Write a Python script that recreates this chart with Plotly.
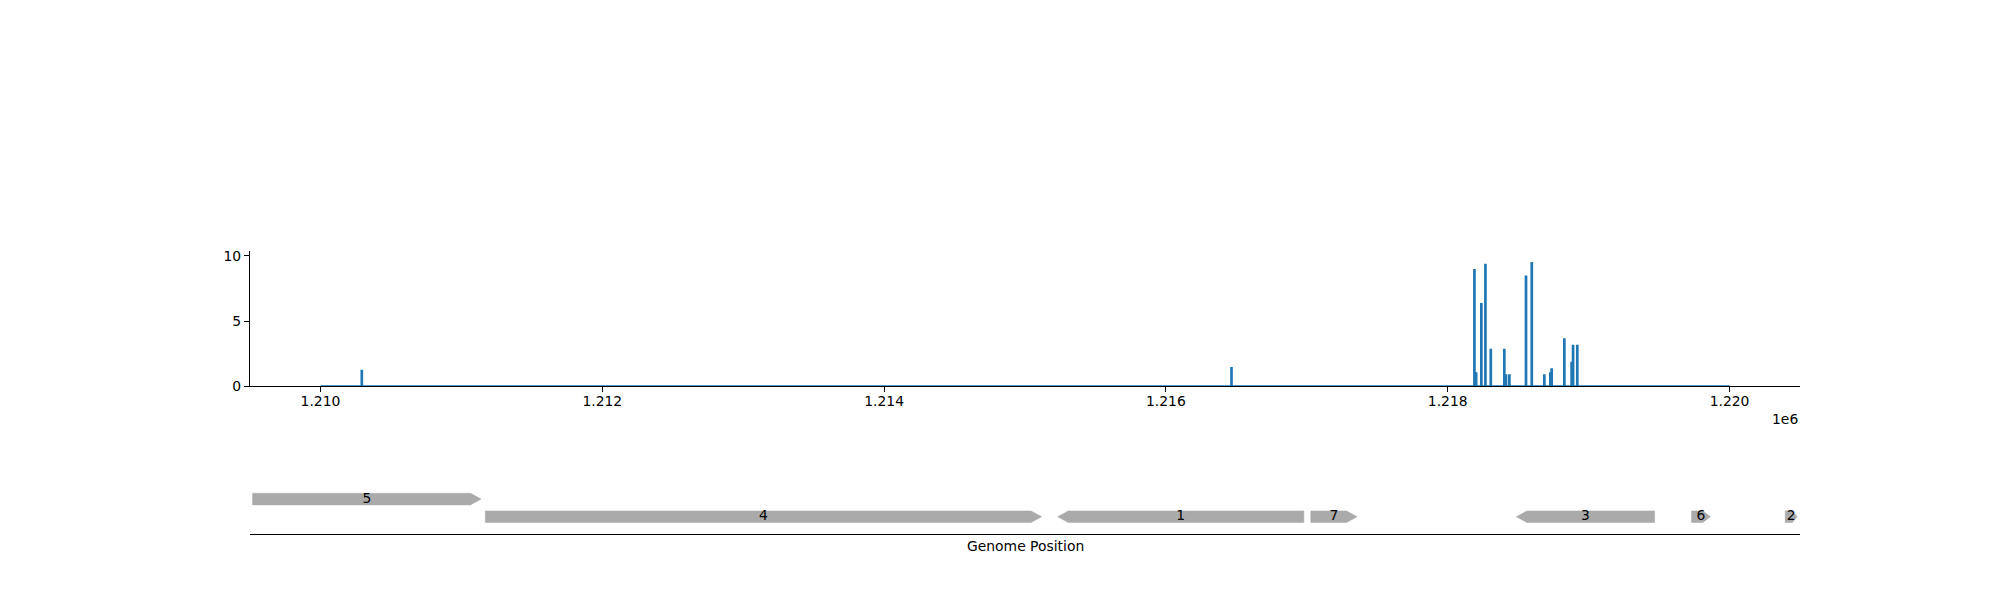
import plotly.graph_objects as go

# coverage spikes (everything else is 0 between 1.210e6 and 1.220e6)
cov_start = 1210000
cov_end = 1220000
spike_pos = [1210291, 1216463, 1218187, 1218199, 1218236, 1218265, 1218303,
             1218399, 1218411, 1218435, 1218553, 1218594, 1218683, 1218726,
             1218735, 1218825, 1218877, 1218887, 1218917]
spike_depth = [1.2, 1.4, 8.9, 1.0, 6.3, 9.3, 2.8,
               2.8, 0.85, 0.85, 8.4, 9.45, 0.85, 1.0,
               1.3, 3.6, 1.8, 3.1, 3.1]

# genes
gene_names = ["5", "4", "1", "7", "3", "6", "2"]
gene_start = [1209518, 1211170, 1215232, 1217028, 1218487, 1219730, 1220395]
gene_end = [1211140, 1215118, 1216979, 1217357, 1219468, 1219865, 1220480]
gene_strand = [1, 1, -1, 1, -1, 1, 1]
gene_level = [1, 0, 0, 0, 0, 0, 0]

xticks = [1210000, 1212000, 1214000, 1216000, 1218000, 1220000]
xtick_text = ["1.210", "1.212", "1.214", "1.216", "1.218", "1.220"]

xrange_ = [1209500, 1220500]
font = dict(family="DejaVu Sans", size=13.9, color="black")
blue = "#1f77b4"
grey = "#aaaaaa"

# page body margin pushes the plot right by 8px
OFF_X = 8
W = 2000 - 2 * OFF_X
H = 600


def fx(p):
    return (p - OFF_X) / W


def fy(p):
    return 1 - p / H


# build the depth line
xs = [cov_start]
ys = [0]
w = 5
for p, d in sorted(zip(spike_pos, spike_depth)):
    xs += [p, p, p + w, p + w]
    ys += [0, d, d, 0]
xs.append(cov_end)
ys.append(0)

fig = go.Figure()
fig.add_trace(go.Scatter(x=xs, y=ys, mode="lines", line=dict(color=blue, width=2),
                         xaxis="x", yaxis="y", showlegend=False))

hh = 0.33
for name, s, e, st, lv in zip(gene_names, gene_start, gene_end, gene_strand, gene_level):
    head = min(75, 0.4 * (e - s))
    if st > 0:
        px = [s, e - head, e, e - head, s, s]
    else:
        px = [e, s + head, s, s + head, e, e]
    py = [lv - hh, lv - hh, lv, lv + hh, lv + hh, lv - hh]
    fig.add_trace(go.Scatter(x=px, y=py, fill="toself", fillcolor=grey, mode="lines",
                             line=dict(color=grey, width=0.5), xaxis="x2", yaxis="y2",
                             showlegend=False, hoverinfo="skip"))

fig.add_trace(go.Scatter(x=[(s + e) / 2 for s, e in zip(gene_start, gene_end)], y=gene_level,
                         mode="text", text=gene_names, textfont=font,
                         xaxis="x2", yaxis="y2", showlegend=False))

axis_common = dict(showgrid=False, zeroline=False, linecolor="black", linewidth=1.1)

fig.update_layout(
    width=W, height=H,
    margin=dict(l=0, r=0, t=0, b=0),
    paper_bgcolor="white", plot_bgcolor="white",
    font=font,
    xaxis=dict(domain=[fx(250), fx(1800)], range=xrange_, showline=True, ticks="outside",
               ticklen=5, tickwidth=1.1, tickcolor="black", tickvals=xticks,
               ticktext=xtick_text, ticklabelstandoff=-3, anchor="y", **axis_common),
    yaxis=dict(domain=[fy(382), fy(244.3)], range=[0, 10.33], showline=True,
               ticks="outside", ticklen=5, tickwidth=1.1, tickcolor="black",
               tickvals=[0, 5, 10], anchor="x", **axis_common),
    xaxis2=dict(domain=[fx(250), fx(1800)], range=xrange_, showline=True, showticklabels=False,
                ticks="", anchor="y2", **axis_common),
    yaxis2=dict(domain=[fy(533), fy(479)], range=[-1, 2], visible=False,
                anchor="x2", **axis_common),
    annotations=[
        dict(text="1e6", x=fx(1800), y=fy(415), xref="paper", yref="paper",
             xanchor="right", yanchor="middle", showarrow=False, font=font),
        dict(text="Genome Position", x=fx(1025), y=fy(545), xref="paper", yref="paper",
             xanchor="center", yanchor="middle", showarrow=False, font=font),
    ],
)

fig.write_html("out.html")
